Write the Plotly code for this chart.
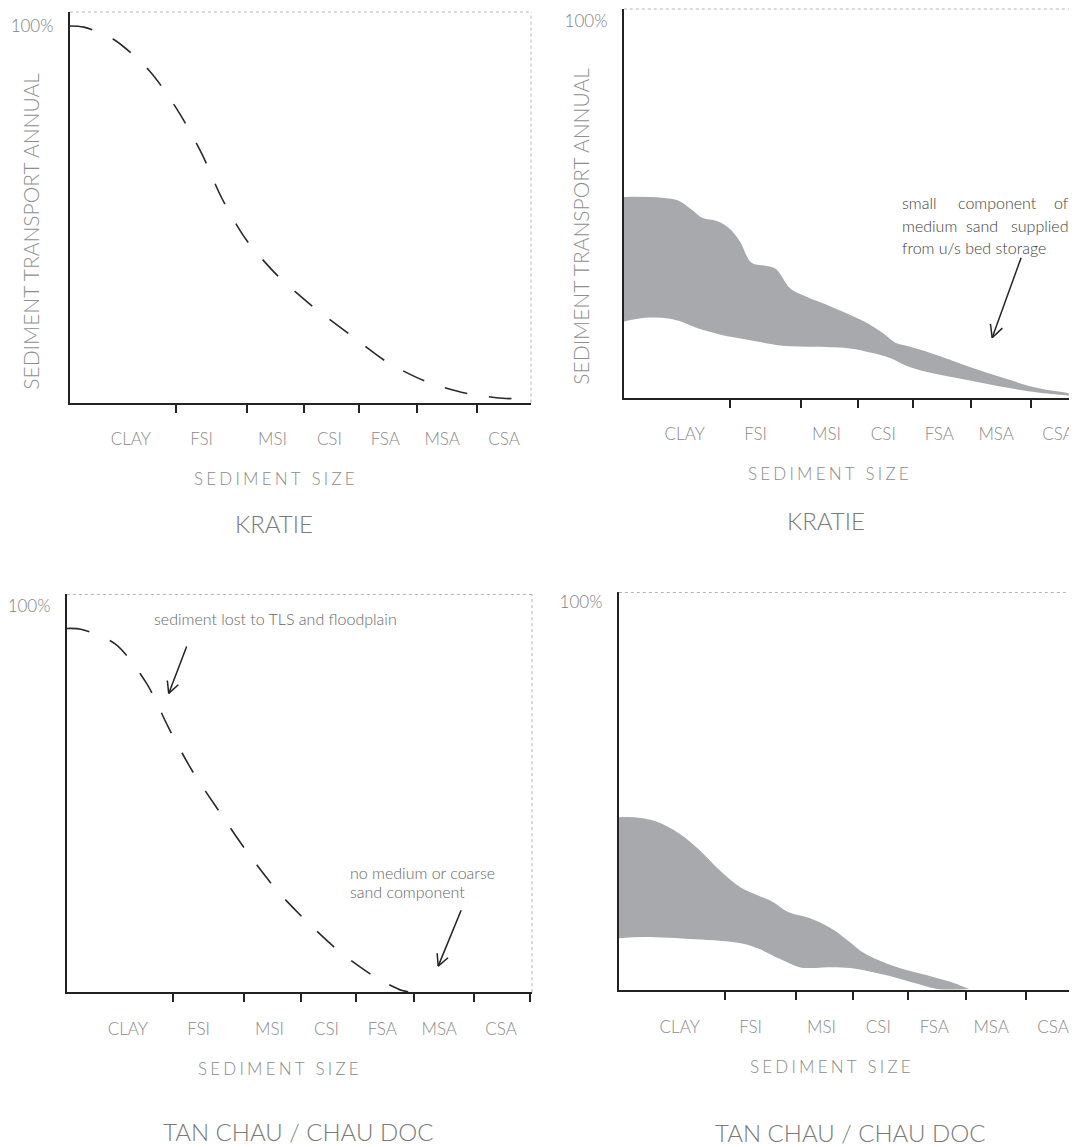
import math
import plotly.graph_objects as go

OFF = 8                      # browser body margin
W, H = 1077 - OFF, 1147 - OFF

# ---------------- data ----------------
categories = ["CLAY", "FSI", "MSI", "CSI", "FSA", "MSA", "CSA"]
y_tick_vals = [100]
y_tick_text = ["100%"]

# Kratie: total annual transport by size (dashed curve), x = size-scale units, y = %
kratie_curve_x = [0, 14, 44, 80, 108, 132, 152, 176, 207, 243, 282, 317, 357, 399, 437, 444]
kratie_curve_y = [100, 99.7, 96.4, 88, 77.6, 66.2, 54.4, 43.5, 34, 25.6, 17.8, 10.9, 5.6, 2.4, 1.1, 1.1]

# Kratie: transport range band (upper / lower edge)
kratie_upper_x = [0, 38, 55, 67, 79, 93, 105, 116, 128, 142, 152, 166, 176, 193, 210, 228, 245, 259, 272, 283, 300, 321, 348, 383, 417, 445, 454]
kratie_upper_y = [53.3, 53.1, 52.3, 50.1, 47.7, 46.9, 45.1, 41.6, 35.8, 35.0, 34.2, 29.2, 27.6, 25.7, 23.9, 21.8, 19.6, 17.2, 14.6, 13.8, 12.5, 10.6, 8.0, 5.0, 2.4, 1.2, 0.6]
kratie_lower_x = [0, 21, 38, 55, 72, 97, 124, 159, 193, 228, 248, 266, 283, 307, 348, 383, 417, 445, 454]
kratie_lower_y = [20.2, 21.2, 21.2, 20.4, 18.6, 16.7, 15.4, 13.8, 13.5, 13.0, 11.9, 10.6, 8.5, 6.6, 4.5, 2.7, 1.3, 0.6, 0.5]

# Tan Chau / Chau Doc: dashed curve
tanchau_curve_x = [0, 14, 49, 80, 102, 126, 153, 181, 211, 244, 275, 309, 336, 342]
tanchau_curve_y = [94.3, 94.1, 90.2, 80, 68.5, 57.2, 46.7, 36.2, 26.2, 17.4, 10.1, 3.9, 0.4, 0.1]

# Tan Chau / Chau Doc: band
tanchau_upper_x = [0, 15, 36, 60, 81, 101, 122, 139, 153, 170, 191, 212, 229, 246, 267, 288, 308, 336, 351]
tanchau_upper_y = [44.6, 44.6, 43.6, 40.5, 36.1, 30.9, 26.5, 24.5, 22.9, 20.1, 18.6, 16.0, 12.9, 9.5, 7.0, 5.2, 3.9, 1.8, 0.3]
tanchau_lower_x = [0, 25, 77, 122, 139, 160, 181, 194, 208, 232, 267, 301, 319, 351]
tanchau_lower_y = [13.4, 13.7, 13.1, 12.1, 10.8, 8.2, 5.9, 5.7, 5.9, 5.7, 3.9, 1.5, 0.3, 0.3]

# ---------------- layout helpers ----------------
BIN_EDGES = [106, 177, 235, 290, 348, 408, 464]       # tick marks between size classes
LABEL_POS = [61, 132, 203, 260, 316, 373, 435]        # category label centres

FONT = "Lato, 'Open Sans', Arial, sans-serif"
AX_COL = "#222222"
BAND_COL = "#a8a9ac"


def px_x(px):
    return min(1.0, max(0.0, (px - OFF) / W))


def px_y(py):
    return min(1.0, max(0.0, 1 - (py - OFF) / H))


panels = [
    dict(left=68, right=530, bottom=402, top=11, ppu=3.77, rborder=True),
    dict(left=623, right=1077, bottom=397, top=8, ppu=3.77, rborder=False),
    dict(left=65, right=531, bottom=992, top=594, ppu=3.86, rborder=True),
    dict(left=618, right=1077, bottom=990, top=592, ppu=3.88, rborder=False),
]

fig = go.Figure()
layout = dict(
    width=W, height=H, margin=dict(l=0, r=0, t=0, b=0),
    paper_bgcolor="white", plot_bgcolor="white", showlegend=False,
    font=dict(family=FONT),
)
shapes = []
annotations = []

SPACED = "\u2009\u200a".join(list("SEDIMENT SIZE"))

for i, p in enumerate(panels, start=1):
    xs = "" if i == 1 else str(i)
    layout["xaxis" + xs] = dict(
        domain=[px_x(p["left"]), px_x(p["right"])],
        range=[0, p["right"] - p["left"]],
        anchor="y" + xs,
        tickmode="array", tickvals=LABEL_POS, ticktext=categories,
        ticks="", ticklabelstandoff=20,
        tickfont=dict(family=FONT, size=17, color="#8a8a8a", weight=300),
        minor=dict(tickmode="array", tickvals=BIN_EDGES, ticks="outside",
                   ticklen=8, tickwidth=2, tickcolor=AX_COL, showgrid=False),
        showline=True, linecolor=AX_COL, linewidth=2,
        showgrid=False, zeroline=False, fixedrange=True,
    )
    layout["yaxis" + xs] = dict(
        domain=[px_y(p["bottom"]), px_y(p["top"])],
        range=[0, (p["bottom"] - p["top"]) / p["ppu"]],
        anchor="x" + xs,
        tickmode="array", tickvals=y_tick_vals, ticktext=y_tick_text,
        ticks="", ticklabelstandoff=11,
        tickfont=dict(family=FONT, size=17, color="#7e7e7e", weight=300),
        showline=True, linecolor=AX_COL, linewidth=2,
        showgrid=False, zeroline=False, fixedrange=True,
    )
    xr = "x" + xs + " domain"
    yr = "y" + xs + " domain"
    shapes.append(dict(type="line", xref=xr, yref=yr, x0=0, x1=1, y0=1, y1=1,
                       line=dict(color="#b5b5b5", width=1, dash="dot")))
    if p["rborder"]:
        shapes.append(dict(type="line", xref=xr, yref=yr, x0=1, x1=1, y0=0, y1=1,
                           line=dict(color="#b5b5b5", width=1, dash="dot")))
    # x axis title (letter-spaced)
    annotations.append(dict(
        text=SPACED, xref="paper", yref="paper",
        x=px_x(p["left"] + (205 if i <= 2 else 212)), y=px_y(p["bottom"] + 76),
        showarrow=False, xanchor="center", yanchor="middle",
        font=dict(family=FONT, size=17, color="#8a8a8a", weight=300)))

# station titles
for txt, cx, cy in [("KRATIE", 272, 523), ("KRATIE", 826, 520),
                    ("TAN CHAU / CHAU DOC", 297, 1131), ("TAN CHAU / CHAU DOC", 850, 1132)]:
    annotations.append(dict(text=txt, xref="paper", yref="paper", x=px_x(cx), y=px_y(cy),
                            showarrow=False, xanchor="center", yanchor="middle",
                            font=dict(family=FONT, size=24, color="#7a7a7a", weight=300)))

# y axis titles (top panels)
for cx, cy in [(29, 230), (580, 225)]:
    annotations.append(dict(text="SEDIMENT TRANSPORT ANNUAL", xref="paper", yref="paper",
                            x=px_x(cx), y=px_y(cy), textangle=-90, showarrow=False,
                            xanchor="center", yanchor="middle",
                            font=dict(family=FONT, size=21, color="#8e8e8e", weight=300)))

# notes (justified block at Kratie placed word by word)
notes = [
    ("small", 900, 202, "left"), ("component", 997, 202, "center"), ("of", 1071, 202, "right"),
    ("medium", 900, 225, "left"), ("sand", 982, 225, "center"), ("supplied", 1071, 225, "right"),
    ("from u/s bed storage", 900, 247, "left"),
]
for txt, lx, cy, anc in notes:
    annotations.append(dict(text=txt, xref="paper", yref="paper", x=px_x(lx), y=px_y(cy),
                            showarrow=False, xanchor=anc, yanchor="middle",
                            font=dict(family=FONT, size=16, color="#3e3e3e", weight=300)))
for txt, lx, cy in [("sediment lost to TLS and floodplain", 150, 618),
                    ("no medium or coarse", 347, 872),
                    ("sand component", 347, 891)]:
    annotations.append(dict(text=txt, xref="paper", yref="paper", x=px_x(lx), y=px_y(cy),
                            showarrow=False, xanchor="left", yanchor="middle",
                            font=dict(family=FONT, size=16, color="#666666", weight=300)))


def arrow(tail, tip, arm=14, ang=27):
    ux, uy = tail[0] - tip[0], tail[1] - tip[1]
    n = math.hypot(ux, uy)
    ux, uy = ux / n, uy / n
    out = [dict(type="line", xref="paper", yref="paper",
                x0=px_x(tail[0]), y0=px_y(tail[1]), x1=px_x(tip[0]), y1=px_y(tip[1]),
                line=dict(color="#222", width=1.5))]
    for s in (1, -1):
        a = math.radians(ang * s)
        rx = ux * math.cos(a) - uy * math.sin(a)
        ry = ux * math.sin(a) + uy * math.cos(a)
        out.append(dict(type="line", xref="paper", yref="paper",
                        x0=px_x(tip[0]), y0=px_y(tip[1]),
                        x1=px_x(tip[0] + arm * rx), y1=px_y(tip[1] + arm * ry),
                        line=dict(color="#222", width=1.5)))
    return out


shapes += arrow((1021, 257), (992, 337))
shapes += arrow((185, 646), (167, 693), arm=13)
shapes += arrow((460, 910), (437, 966), arm=13)

# ---------------- traces ----------------
DASH = "23px,22px"
fig.add_trace(go.Scatter(x=kratie_curve_x, y=kratie_curve_y, xaxis="x", yaxis="y",
                         mode="lines", line=dict(color="#2a2a2a", width=1.6, dash=DASH,
                                                 shape="spline", smoothing=0.8),
                         hoverinfo="skip"))
fig.add_trace(go.Scatter(x=kratie_lower_x, y=kratie_lower_y, xaxis="x2", yaxis="y2",
                         mode="lines", line=dict(width=0, shape="spline", color=BAND_COL), hoverinfo="skip"))
fig.add_trace(go.Scatter(x=kratie_upper_x, y=kratie_upper_y, xaxis="x2", yaxis="y2",
                         mode="lines", fill="tonexty", fillcolor=BAND_COL,
                         line=dict(width=0, shape="spline", color=BAND_COL), hoverinfo="skip"))
fig.add_trace(go.Scatter(x=tanchau_curve_x, y=tanchau_curve_y, xaxis="x3", yaxis="y3",
                         mode="lines", line=dict(color="#2a2a2a", width=1.6, dash=DASH,
                                                 shape="spline", smoothing=0.8),
                         hoverinfo="skip"))
fig.add_trace(go.Scatter(x=tanchau_lower_x, y=tanchau_lower_y, xaxis="x4", yaxis="y4",
                         mode="lines", line=dict(width=0, shape="spline", color=BAND_COL), hoverinfo="skip"))
fig.add_trace(go.Scatter(x=tanchau_upper_x, y=tanchau_upper_y, xaxis="x4", yaxis="y4",
                         mode="lines", fill="tonexty", fillcolor=BAND_COL,
                         line=dict(width=0, shape="spline", color=BAND_COL), hoverinfo="skip"))

layout["shapes"] = shapes
layout["annotations"] = annotations
fig.update_layout(**layout)
fig.write_html("out.html")
